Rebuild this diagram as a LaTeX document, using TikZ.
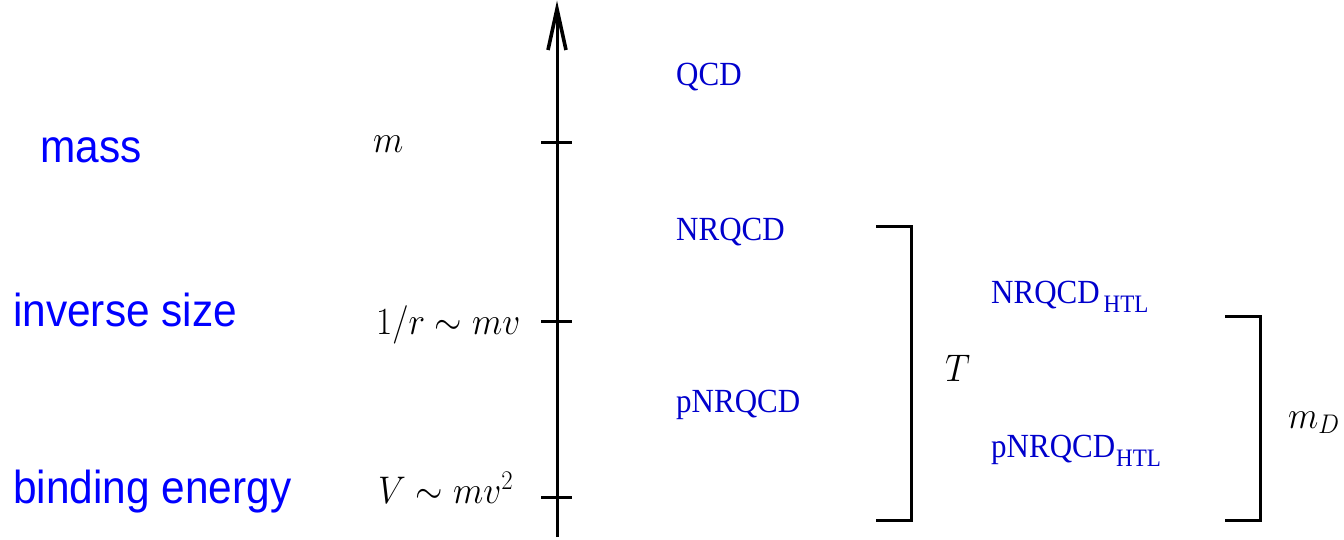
\documentclass[tikz,border=0pt]{standalone}
\usepackage{fix-cm}
\usepackage{graphicx}
\usepackage{fontspec}
\setmainfont{Liberation Serif}
\newfontfamily\arialfont{Liberation Sans}
\definecolor{sblue}{RGB}{0,0,255}
\definecolor{eblue}{RGB}{0,0,204}
\newcommand{\vs}[1]{\scalebox{1}[1.09]{#1}}
\newcommand{\htl}{{\fontsize{23}{24}\selectfont\raisebox{-9pt}{HTL}}}
\tikzset{
  sanslab/.style={text=sblue, anchor=base west, inner sep=0pt, font=\arialfont\fontsize{42.4}{48}\selectfont},
  mathlab/.style={anchor=base west, inner sep=0pt, font=\fontsize{35.3}{40}\selectfont},
  eftlab/.style={text=eblue, anchor=base west, inner sep=0pt, font=\fontsize{31}{36}\selectfont},
  axisline/.style={line width=3pt},
  bracketline/.style={line width=3pt, line join=miter}
}
\begin{document}
\begin{tikzpicture}[x=1pt,y=-1pt]
\useasboundingbox (0,0) rectangle (1344,539);
% axis
\coordinate (axb) at (557,537);
\coordinate (axt) at (557,9);
\coordinate (axs) at (557,14);
\coordinate (barbl) at (548,50);
\coordinate (barbr) at (566,50);
\draw[axisline] (axb) -- (axs);
\draw[line width=3.6pt, line join=miter, miter limit=20] (barbl) -- (axt) -- (barbr);
% ticks
\foreach \n/\y in {tm/142, tr/321, tv/497} {
  \coordinate (\n l) at (541,\y);
  \coordinate (\n r) at (572,\y);
  \draw[axisline] (\n l) -- (\n r);
}
% left sans labels
\node[sanslab] (mass) at (40,162) {\vs{mass}};
\node[sanslab] (inv) at (13,326) {\vs{inverse size}};
\node[sanslab] (bind) at (13,503) {\vs{binding energy}};
% math labels
\node[mathlab] (lm) at (373,152) {\vs{$m$}};
\node[mathlab] (lr) at (376,334) {\vs{$1/r\sim mv$}};
\node[mathlab] (lv) at (378,503) {\vs{$V\sim mv^2$}};
% EFT labels
\node[eftlab] (qcd) at (676,85) {\vs{QCD}};
\node[eftlab] (nrqcd) at (676,240) {\vs{NRQCD}};
\node[eftlab] (pnrqcd) at (676,412) {\vs{pNRQCD}};
\node[eftlab] (nrqcdh) at (991,303) {\vs{NRQCD\kern4pt\htl}};
\node[eftlab] (pnrqcdh) at (991,457) {\vs{pNRQCD\kern1pt\htl}};
% brackets
\coordinate (b1a) at (876,226);
\coordinate (b1b) at (911,226);
\coordinate (b1c) at (911,520);
\coordinate (b1d) at (876,520);
\draw[bracketline] (b1a) -- (b1b) -- (b1c) -- (b1d);
\node[mathlab] (T) at (945,381) {\vs{$T$}};
\coordinate (b2a) at (1225,316);
\coordinate (b2b) at (1260,316);
\coordinate (b2c) at (1260,520);
\coordinate (b2d) at (1225,520);
\draw[bracketline] (b2a) -- (b2b) -- (b2c) -- (b2d);
\node[mathlab] (mD) at (1288,428) {\vs{$m_D$}};
\end{tikzpicture}
\end{document}
